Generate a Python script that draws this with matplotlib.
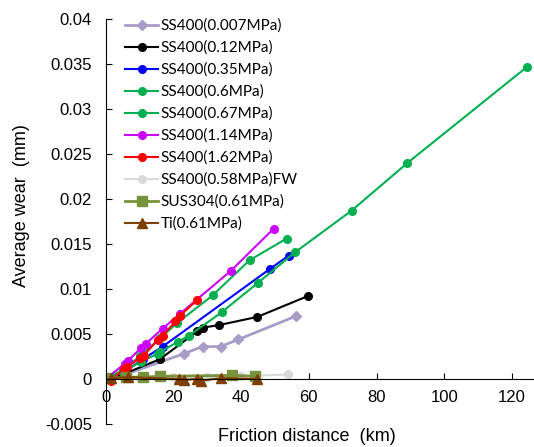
import matplotlib
matplotlib.use('Agg')
import matplotlib.pyplot as plt
from matplotlib.ticker import FuncFormatter

# Данные (км, мм)
x_0007 = [0, 5, 23.0, 28.6, 33.9, 39.2, 56.3]
y_0007 = [0, 0.0004, 0.0028, 0.0036, 0.0036, 0.0044, 0.0070]

x_012 = [0, 5, 16, 27.1, 28.6, 33.6, 44.8, 59.6]
y_012 = [0, 0.0005, 0.0022, 0.0053, 0.0057, 0.0060, 0.0069, 0.0092]

x_035 = [0, 5.5, 11, 16.8, 48.4, 54.0]
y_035 = [0, 0.0008, 0.0022, 0.0036, 0.0122, 0.0137]

x_06 = [0, 5, 10.3, 15.3, 16, 21.2, 24.5, 34.2, 45.0, 56.0, 72.6, 89.1, 124.5]
y_06 = [0, 0.0008, 0.0019, 0.0028, 0.0030, 0.0041, 0.0048, 0.0074, 0.0107, 0.0141, 0.0187, 0.0240, 0.0347]

x_067 = [0, 5, 10, 16, 21, 31.6, 42.5, 53.4]
y_067 = [0, 0.0010, 0.0025, 0.0045, 0.0062, 0.0093, 0.0132, 0.0156]

x_114 = [0, 5.6, 6.5, 10.3, 11.8, 16.8, 21.8, 36.9, 49.6]
y_114 = [0, 0.0017, 0.0020, 0.0034, 0.0039, 0.0056, 0.0072, 0.0120, 0.0167]

x_162 = [0, 1.5, 5.3, 6.2, 10.0, 11.2, 15.3, 16.8, 20.6, 21.8, 27.1]
y_162 = [0, -0.0002, 0.0011, 0.0013, 0.0023, 0.0026, 0.0043, 0.0048, 0.0064, 0.0070, 0.0088]

x_fw = [0, 10, 20, 30, 40, 53.7]
y_fw = [0, 0.0001, 0.0002, 0.0002, 0.0003, 0.0005]

x_sus = [0, 6, 11, 16, 37.4, 44.2]
y_sus = [0.0001, 0.0002, 0.0002, 0.0003, 0.0004, 0.0003]

x_ti = [1.5, 6.5, 21.5, 23, 27.1, 28, 34, 44.8]
y_ti = [0.0001, 0.0002, 0.0, -0.0001, 0.0, -0.0002, 0.0001, 0.0]

plt.rcParams['font.family'] = ['Liberation Sans', 'DejaVu Sans']

fig = plt.figure(figsize=(5.34, 4.47), dpi=100)
ax = fig.add_axes([0.198, 0.0515, 0.802, 0.906])

lw = 1.5
ms = 5.5
ax.plot(x_0007, y_0007, marker='D', ms=ms, color='#A89CC8', lw=2, label='SS400(0.007MPa)')
ax.plot(x_012, y_012, marker='o', ms=ms, color='black', lw=lw, label='SS400(0.12MPa)')
ax.plot(x_035, y_035, marker='o', ms=ms, color='#0000FF', lw=lw, label='SS400(0.35MPa)')
ax.plot(x_06, y_06, marker='o', ms=ms, color='#00B050', lw=lw, label='SS400(0.6MPa)')
ax.plot(x_067, y_067, marker='o', ms=ms, color='#00B050', lw=lw, label='SS400(0.67MPa)')
ax.plot(x_114, y_114, marker='o', ms=ms, color='#CC00FF', lw=lw, label='SS400(1.14MPa)')
ax.plot(x_162, y_162, marker='o', ms=ms, color='#FF0000', lw=lw, label='SS400(1.62MPa)')
ax.plot(x_fw, y_fw, marker='o', ms=ms, color='#D9D9D9', lw=lw, label='SS400(0.58MPa)FW')
ax.plot(x_sus, y_sus, marker='s', ms=7.5, color='#77933C', lw=2, label='SUS304(0.61MPa)')
ax.plot(x_ti, y_ti, marker='^', ms=6.5, color='#7F3F00', lw=lw, label='Ti(0.61MPa)')

ax.set_xlim(0, 126.5)
ax.set_ylim(-0.005, 0.04)
ax.set_xticks([0, 20, 40, 60, 80, 100, 120])
ax.set_yticks([-0.005, 0, 0.005, 0.01, 0.015, 0.02, 0.025, 0.03, 0.035, 0.04])
ax.yaxis.set_major_formatter(FuncFormatter(lambda v, p: '%g' % round(v, 4)))

ax.spines['top'].set_visible(False)
ax.spines['right'].set_visible(False)
ax.spines['bottom'].set_position(('data', 0))
ax.tick_params(axis='both', direction='in', length=4, labelsize=12)
ax.tick_params(axis='y', pad=10)
ax.tick_params(axis='x', pad=8)

ax.set_xlabel('Friction distance  (km)', fontsize=13)
ax.xaxis.set_label_coords(0.47, -0.01)
ax.set_ylabel('Average wear  (mm)', fontsize=13)
ax.yaxis.set_label_coords(-0.178, 0.54)

ax.legend(loc='upper left', bbox_to_anchor=(0.235, 0.958), bbox_transform=fig.transFigure,
          frameon=False, prop={'family': 'Lato', 'size': 11}, handlelength=2.1,
          handletextpad=0.2, labelspacing=0.5, borderpad=0, borderaxespad=0)

plt.savefig('out.png', dpi=100)
